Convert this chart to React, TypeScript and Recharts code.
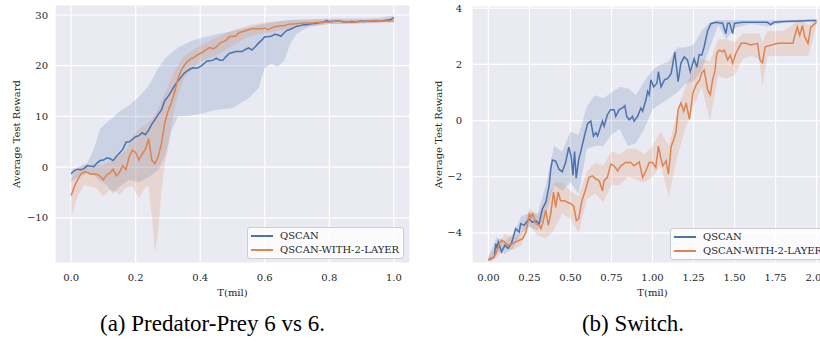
import React from 'react';
import { ComposedChart, Line, Area, XAxis, YAxis, CartesianGrid, Label } from 'recharts';

const BLUE = '#4C72B0';
const ORANGE = '#DD8452';
const SERIES_NAMES = ['QSCAN', 'QSCAN-WITH-2-LAYER'];

// ---------- (a) Predator-Prey 6 vs 6 : values every 0.01 mil ----------
const ppStep = 0.01;
const ppQscan = [
  -1.3, -0.7, -0.4, -0.5, -0.3, 0.3, 0.2, 0.1, 0.8, 1.3,
  1.4, 1.8, 1.7, 1.3, 2.1, 2.8, 3.5, 4.9, 5.0, 5.5,
  6.0, 6.2, 6.8, 6.4, 7.3, 8.5, 9.4, 10.4, 11.3, 13.1,
  13.9, 14.9, 16.0, 16.9, 17.7, 18.5, 19.0, 19.4, 19.6, 19.5,
  19.8, 20.3, 20.9, 21.0, 21.1, 21.5, 21.1, 21.1, 21.8, 22.4,
  22.6, 22.8, 22.8, 22.8, 23.2, 23.5, 23.1, 23.7, 24.4, 25.0,
  25.7, 25.7, 25.8, 26.2, 26.1, 25.8, 26.5, 27.0, 27.2, 27.5,
  27.8, 27.9, 28.1, 28.1, 28.2, 28.3, 28.3, 28.5, 28.5, 28.9,
  28.7, 28.7, 28.8, 28.8, 28.7, 28.6, 28.6, 28.7, 28.6, 28.7,
  28.8, 28.7, 28.8, 28.8, 28.8, 28.9, 28.8, 28.9, 29.0, 29.1,
  29.5,
];
const ppLayer2 = [
  -5.6, -3.8, -2.5, -1.4, -0.9, -1.0, -1.4, -1.3, -1.4, -1.8,
  -2.5, -1.5, -1.2, -0.4, -1.7, -1.0, 0.3, -0.5, 2.1, 3.3,
  2.9, 1.4, 2.6, 3.5, 5.6, 1.4, 0.7, 2.1, 4.7, 8.7,
  11.0, 12.6, 14.6, 17.2, 19.0, 20.0, 20.8, 21.3, 21.6, 22.1,
  22.4, 22.8, 23.2, 23.6, 23.3, 23.7, 24.4, 24.7, 25.0, 25.7,
  25.8, 25.8, 26.5, 26.7, 26.9, 27.1, 27.3, 27.3, 27.3, 27.3,
  27.4, 27.1, 27.4, 27.7, 27.8, 27.9, 27.9, 28.1, 28.2, 28.2,
  28.3, 28.3, 28.4, 28.4, 28.4, 28.4, 28.5, 28.5, 28.6, 28.6,
  28.6, 28.7, 28.8, 28.8, 28.6, 28.7, 28.6, 28.5, 28.6, 28.7,
  28.7, 28.7, 28.8, 28.8, 28.9, 28.9, 28.8, 28.8, 28.8, 28.8,
  28.8,
];
// [t, lower, upper]
const ppQscanBand = [
  [0, -2.8, -0.4], [0.02, -2.0, 0.0], [0.05, -1.3, 0.8], [0.07, -1.6, 3.5], [0.09, -2.8, 7.5],
  [0.11, -3.5, 8.8], [0.13, -5.2, 9.8], [0.15, -3.8, 11.0], [0.18, -2.5, 12.2], [0.21, -3.0, 13.9],
  [0.24, -2.0, 16.0], [0.27, -0.5, 19.5], [0.29, 2.0, 21.3], [0.31, 7.0, 22.5], [0.33, 10.0, 23.5],
  [0.37, 10.2, 24.8], [0.40, 10.5, 25.4], [0.45, 11.3, 26.2], [0.50, 11.6, 26.8], [0.55, 13.6, 27.6],
  [0.58, 15.5, 28.0], [0.60, 19.5, 28.3], [0.62, 20.4, 28.5], [0.64, 19.8, 28.7], [0.66, 21.0, 28.9],
  [0.68, 24.5, 29.0], [0.70, 26.3, 29.1], [0.73, 27.5, 29.1], [0.76, 27.9, 29.2], [0.80, 28.2, 29.3],
  [0.85, 28.2, 29.3], [0.90, 28.3, 29.3], [0.95, 28.4, 29.4], [1.0, 28.9, 29.9],
];
const ppLayer2Band = [
  [0, -10.0, -2.5], [0.02, -5.8, -0.5], [0.04, -3.5, 0.3], [0.06, -3.8, 0.5], [0.08, -4.2, 0.4],
  [0.10, -5.8, 0.4], [0.12, -4.5, 1.0], [0.14, -4.8, 1.8], [0.15, -5.5, 2.4], [0.17, -4.0, 3.4],
  [0.19, -3.8, 6.0], [0.21, -6.1, 7.5], [0.23, -4.0, 8.3], [0.24, -3.8, 8.8], [0.25, -9.7, 9.5],
  [0.26, -16.9, 10.5], [0.27, -12.3, 11.5], [0.28, -4.5, 13.0], [0.29, 0.5, 14.5], [0.30, 3.4, 16.0],
  [0.31, 8.1, 17.5], [0.32, 11.5, 18.8], [0.33, 14.0, 20.0], [0.35, 17.5, 21.8], [0.38, 19.8, 23.2],
  [0.40, 20.8, 24.0], [0.45, 22.0, 25.5], [0.50, 24.0, 27.0], [0.55, 25.8, 28.0], [0.60, 26.4, 28.5],
  [0.65, 27.0, 28.8], [0.70, 27.6, 29.0], [0.80, 28.2, 29.1], [0.90, 28.4, 29.0], [1.0, 28.5, 29.1],
];
const ppXTicks = [0, 0.2, 0.4, 0.6, 0.8, 1.0];
const ppYTicks = [-10, 0, 10, 20, 30];

// ---------- (b) Switch : [t, value] ----------
const swQscan = [
  [0, -4.95], [0.036, -4.85], [0.045, -4.38], [0.052, -4.55], [0.06, -4.32], [0.08, -4.67], [0.1, -4.44],
  [0.12, -4.55], [0.14, -4.38], [0.166, -3.85], [0.187, -3.97], [0.197, -3.67], [0.217, -3.73], [0.248, -3.5],
  [0.268, -3.62], [0.289, -3.56], [0.309, -3.67], [0.329, -3.14], [0.35, -2.9], [0.37, -2.32], [0.38, -1.73],
  [0.39, -1.4], [0.41, -1.44], [0.43, -1.73], [0.45, -1.82], [0.47, -1.5], [0.49, -0.95], [0.505, -1.3],
  [0.515, -1.95], [0.525, -1.1], [0.535, -2.05], [0.55, -1.4], [0.565, -1.05], [0.585, -0.55], [0.605, -0.1],
  [0.624, -0.02], [0.64, -0.55], [0.655, -0.43], [0.665, -0.55], [0.695, -0.02], [0.705, -0.2], [0.725, 0.21],
  [0.745, 0.39], [0.766, 0.39], [0.776, 0.15], [0.797, 0.39], [0.817, 0.45], [0.831, 0.53], [0.843, 0.15],
  [0.858, 0.03], [0.878, 0.15], [0.888, -0.02], [0.909, 0.15], [0.929, 0.45], [0.94, 0.33], [0.96, 0.74],
  [0.97, 1.04], [0.98, 0.92], [0.99, 1.45], [1.007, 1.2], [1.027, 1.33], [1.036, 1.74], [1.052, 1.2],
  [1.073, 1.45], [1.093, 1.5], [1.114, 1.68], [1.136, 2.45], [1.156, 1.39], [1.173, 2.04], [1.193, 2.27],
  [1.213, 2.16], [1.23, 1.74], [1.254, 2.2], [1.27, 1.9], [1.285, 2.35], [1.3, 2.33], [1.315, 2.63],
  [1.336, 3.2], [1.356, 3.45], [1.386, 3.5], [1.427, 3.47], [1.447, 3.1], [1.458, 3.47], [1.47, 3.47],
  [1.488, 3.1], [1.5, 3.47], [1.55, 3.5], [1.6, 3.5], [1.65, 3.5], [1.7, 3.5], [1.72, 3.42], [1.74, 3.5],
  [1.8, 3.53], [1.85, 3.54], [1.9, 3.55], [1.95, 3.56], [2.0, 3.56],
];
const swLayer2 = [
  [0, -4.97], [0.027, -4.9], [0.047, -4.73], [0.067, -4.38], [0.08, -4.26], [0.097, -4.32], [0.117, -4.44],
  [0.148, -4.38], [0.168, -4.32], [0.188, -4.26], [0.209, -4.2], [0.229, -3.97], [0.25, -3.32], [0.26, -3.44],
  [0.27, -3.32], [0.29, -3.67], [0.31, -3.73], [0.32, -3.85], [0.33, -3.67], [0.35, -3.2], [0.365, -3.73],
  [0.38, -3.32], [0.397, -2.55], [0.41, -3.09], [0.425, -2.55], [0.44, -2.85], [0.465, -2.85], [0.48, -2.91],
  [0.5, -2.95], [0.52, -3.05], [0.536, -3.56], [0.55, -3.5], [0.57, -2.85], [0.59, -2.5], [0.613, -2.02],
  [0.634, -1.97], [0.655, -2.08], [0.675, -2.14], [0.695, -2.5], [0.705, -2.14], [0.725, -2.02], [0.746, -1.55],
  [0.766, -1.61], [0.787, -1.79], [0.807, -1.61], [0.837, -1.49], [0.868, -1.49], [0.888, -1.61], [0.919, -1.47],
  [0.94, -2.02], [0.96, -1.79], [0.98, -1.49], [1.0, -1.49], [1.02, -1.67], [1.036, -0.91], [1.048, -1.26],
  [1.063, -1.61], [1.083, -1.43], [1.097, -1.91], [1.114, -0.91], [1.13, -0.67], [1.144, -0.38], [1.156, 0.39],
  [1.173, 0.63], [1.19, 0.33], [1.205, 0.63], [1.225, 0.04], [1.246, 0.98], [1.266, 1.27], [1.287, 1.45],
  [1.3, 1.69], [1.315, 1.8], [1.336, 1.1], [1.352, 0.92], [1.366, 1.45], [1.38, 1.74], [1.392, 2.39],
  [1.406, 2.51], [1.427, 2.45], [1.437, 2.51], [1.458, 2.16], [1.474, 2.33], [1.488, 2.04], [1.508, 2.39],
  [1.54, 2.75], [1.57, 2.75], [1.6, 2.69], [1.64, 2.75], [1.655, 2.16], [1.67, 2.06], [1.687, 2.63],
  [1.763, 2.75], [1.855, 2.75], [1.882, 3.33], [1.897, 3.04], [1.914, 3.39], [1.928, 2.98], [1.948, 2.75],
  [1.965, 3.33], [1.99, 3.45], [2.0, 3.5],
];
// [t, lower, upper]
const swQscanBand = [
  [0, -5.0, -4.85], [0.05, -4.65, -4.15], [0.1, -4.75, -4.3], [0.15, -4.55, -4.05], [0.2, -4.0, -3.4],
  [0.25, -3.8, -3.3], [0.3, -3.9, -3.3], [0.35, -3.3, -2.3], [0.4, -2.3, -0.9], [0.45, -2.5, -1.1],
  [0.5, -2.2, -0.4], [0.55, -2.6, -0.5], [0.6, -1.0, 0.5], [0.65, -0.9, 0.9], [0.7, -0.9, 0.8],
  [0.75, -0.5, 1.0], [0.8, -0.3, 1.2], [0.85, -0.9, 1.15], [0.9, -0.8, 0.9], [0.95, -0.3, 1.4],
  [1.0, 0.4, 1.8], [1.05, 0.6, 2.0], [1.1, 0.8, 2.1], [1.15, 1.0, 2.6], [1.2, 1.3, 2.6],
  [1.25, 1.4, 2.7], [1.3, 1.8, 3.2], [1.35, 2.6, 3.5], [1.4, 3.4, 3.58], [1.45, 2.9, 3.58],
  [1.5, 3.3, 3.58], [1.6, 3.45, 3.58], [1.7, 3.35, 3.57], [1.8, 3.48, 3.58], [1.9, 3.5, 3.59],
  [2.0, 3.5, 3.6],
];
const swLayer2Band = [
  [0, -5.05, -4.85], [0.05, -4.9, -4.4], [0.1, -4.55, -4.05], [0.15, -4.6, -4.15], [0.2, -4.45, -4.0],
  [0.25, -3.7, -3.1], [0.3, -4.1, -3.4], [0.35, -4.2, -2.9], [0.4, -3.9, -2.2], [0.45, -3.3, -2.2],
  [0.5, -3.5, -2.5], [0.55, -4.0, -2.7], [0.6, -2.8, -1.8], [0.65, -2.6, -1.5], [0.7, -2.9, -1.6],
  [0.75, -2.3, -1.1], [0.8, -2.3, -1.2], [0.85, -2.0, -1.0], [0.9, -2.1, -1.0], [0.95, -2.2, -1.2],
  [1.0, -2.0, -0.9], [1.05, -1.6, -0.4], [1.1, -2.7, -0.9], [1.15, -1.3, 0.3], [1.2, -0.3, 1.2],
  [1.25, 0.5, 1.9], [1.3, 1.2, 2.2], [1.35, 0.0, 2.1], [1.4, 1.6, 2.9], [1.45, 1.5, 2.9],
  [1.5, 1.6, 2.8], [1.55, 2.2, 3.1], [1.6, 2.3, 3.1], [1.65, 2.2, 3.1], [1.67, 1.2, 2.8],
  [1.7, 2.3, 3.2], [1.8, 2.3, 3.2], [1.9, 2.3, 3.6], [1.95, 2.3, 3.4], [2.0, 3.4, 3.6],
];
const swXTicks = [0, 0.25, 0.5, 0.75, 1.0, 1.25, 1.5, 1.75, 2.0];
const swYTicks = [-4, -2, 0, 2, 4];

const CAPTIONS = ['(a) Predator-Prey 6 vs 6.', '(b) Switch.'];
const X_LABEL = 'T(mil)';
const Y_LABEL = 'Average Test Reward';

// ---------- helpers ----------
const toLine = (vals: number[]) => vals.map((v, i) => ({ t: Math.round(i * ppStep * 100) / 100, v }));
const toPairs = (rows: number[][]) => rows.map(([t, v]) => ({ t, v }));
const toBand = (rows: number[][]) => rows.map(([t, lo, hi]) => ({ t, range: [lo, hi] }));
const fmtInt = (v: number) => (v < 0 ? '\u2212' + Math.abs(v) : String(v));

const TEXT = '#262626';
const SERIF = 'DejaVu Serif';
const CAPTION_FONT = 'Liberation Serif';
const tickStyle = { fill: TEXT, fontSize: 10, fontFamily: SERIF };
const labelStyle = { fill: TEXT, fontSize: 10, fontFamily: SERIF };

function Legend({ left, top }: { left: number; top: number }) {
  const colors = [BLUE, ORANGE];
  return (
    <div
      style={{
        position: 'absolute', left, top, width: 157, height: 32, boxSizing: 'border-box',
        background: 'rgba(255,255,255,0.8)', border: '1px solid #cccccc', borderRadius: 3,
        fontFamily: SERIF, fontSize: 10, color: TEXT,
      }}
    >
      {SERIES_NAMES.map((n, i) => (
        <div key={n} style={{ position: 'absolute', left: 0, top: 1 + i * 14, height: 14, width: 160, whiteSpace: 'nowrap' }}>
          <div style={{ position: 'absolute', left: 3, top: 6, width: 22, height: 1.5, background: colors[i] }} />
          <span style={{ position: 'absolute', left: 32, top: 0, lineHeight: '14px' }}>{n}</span>
        </div>
      ))}
    </div>
  );
}

function Panel(props: {
  width: number; top: number; yWidth: number; xDomain: number[]; yDomain: number[];
  xTicks: number[]; yTicks: number[]; xFmt: (v: number) => string; yTickMargin: number;
  blue: any[]; orange: any[]; blueBand: any[]; orangeBand: any[]; yLabelOffset: number;
}) {
  const p = props;
  return (
    <ComposedChart width={p.width} height={300} margin={{ top: p.top, right: 0, bottom: 0, left: 0 }}>
      <CartesianGrid fill="#EAEAF2" stroke="#FFFFFF" strokeWidth={1.2} />
      <XAxis
        type="number" dataKey="t" domain={p.xDomain} ticks={p.xTicks} tickFormatter={p.xFmt}
        height={37} axisLine={false} tickLine={false} tickSize={0} tickMargin={11} tick={tickStyle}
        allowDataOverflow interval={0}
      >
        <Label value={X_LABEL} position="insideBottom" offset={4} style={labelStyle} />
      </XAxis>
      <YAxis
        type="number" domain={p.yDomain} ticks={p.yTicks} tickFormatter={fmtInt}
        width={p.yWidth} axisLine={false} tickLine={false} tickSize={0} tickMargin={p.yTickMargin}
        tick={tickStyle} allowDataOverflow interval={0}
      >
        <Label value={Y_LABEL} angle={-90} position="insideLeft" offset={p.yLabelOffset}
          style={{ ...labelStyle, textAnchor: 'middle' }} />
      </YAxis>
      <Area data={p.blueBand} dataKey="range" type="linear" stroke="none" fill={BLUE} fillOpacity={0.2}
        isAnimationActive={false} dot={false} activeDot={false} />
      <Area data={p.orangeBand} dataKey="range" type="linear" stroke="none" fill={ORANGE} fillOpacity={0.2}
        isAnimationActive={false} dot={false} activeDot={false} />
      <Line data={p.blue} dataKey="v" type="linear" stroke={BLUE} strokeWidth={1.5} dot={false}
        activeDot={false} isAnimationActive={false} />
      <Line data={p.orange} dataKey="v" type="linear" stroke={ORANGE} strokeWidth={1.5} dot={false}
        activeDot={false} isAnimationActive={false} />
    </ComposedChart>
  );
}

export default function App() {
  const captionStyle: React.CSSProperties = {
    position: 'absolute', top: 311, textAlign: 'center', fontFamily: CAPTION_FONT,
    fontSize: 23, lineHeight: '26px', color: '#000', whiteSpace: 'nowrap',
  };
  return (
    <div style={{ position: 'absolute', left: 0, top: 0, width: 820, height: 351, overflow: 'hidden', background: '#fff' }}>
      <div style={{ position: 'absolute', left: 0, top: 0, width: 410, height: 300 }}>
        <Panel
          width={410} top={5} yWidth={55} xDomain={[-0.05, 1.05]} yDomain={[-18.9, 31.97]}
          xTicks={ppXTicks} yTicks={ppYTicks} xFmt={(v) => v.toFixed(1)} yTickMargin={7}
          blue={toLine(ppQscan)} orange={toLine(ppLayer2)}
          blueBand={toBand(ppQscanBand)} orangeBand={toBand(ppLayer2Band)} yLabelOffset={16}
        />
      </div>
      <div style={{ position: 'absolute', left: 410, top: 0, width: 410, height: 300, overflow: 'hidden' }}>
        <Panel
          width={423} top={6} yWidth={62} xDomain={[-0.1, 2.1]} yDomain={[-5.07, 4.08]}
          xTicks={swXTicks} yTicks={swYTicks} xFmt={(v) => v.toFixed(2)} yTickMargin={10}
          blue={toPairs(swQscan)} orange={toPairs(swLayer2)}
          blueBand={toBand(swQscanBand)} orangeBand={toBand(swLayer2Band)} yLabelOffset={28}
        />
      </div>
      <Legend left={247} top={227} />
      <Legend left={670} top={228} />
      <div style={{ ...captionStyle, left: 0, width: 425 }}>{CAPTIONS[0]}</div>
      <div style={{ ...captionStyle, left: 433, width: 400 }}>{CAPTIONS[1]}</div>
    </div>
  );
}
